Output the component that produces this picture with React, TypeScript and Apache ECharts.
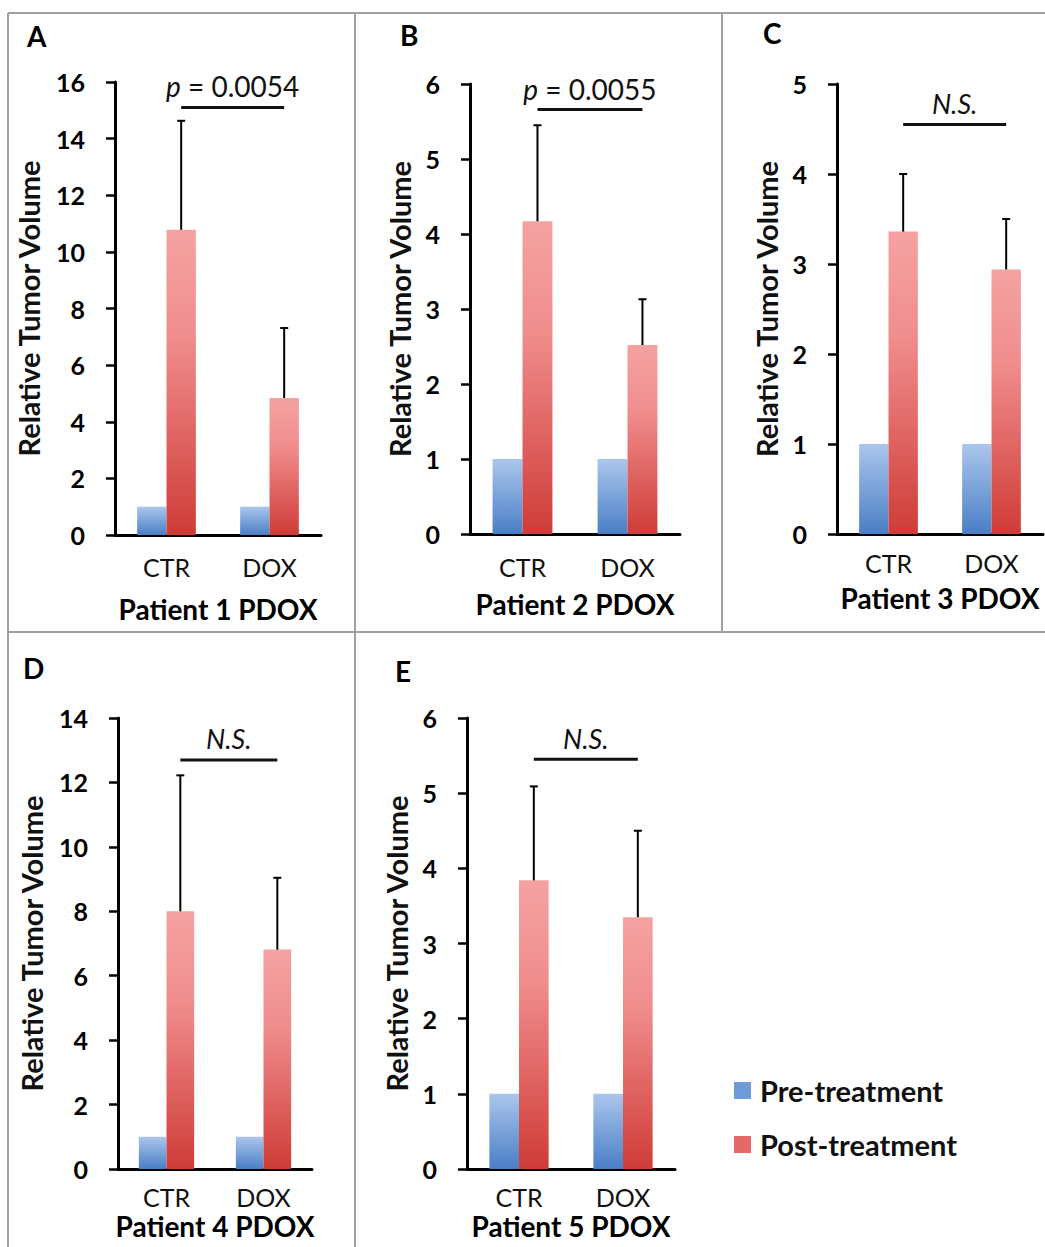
import React, { useEffect, useRef } from 'react';
import * as echarts from 'echarts';

// ---------- data ----------
const categories = ['CTR', 'DOX'];
const panelLetters = ['A', 'B', 'C', 'D', 'E'];
const patientLabels = ['Patient 1 PDOX', 'Patient 2 PDOX', 'Patient 3 PDOX', 'Patient 4 PDOX', 'Patient 5 PDOX'];
const seriesNames = ['Pre-treatment', 'Post-treatment'];
const preValues = [
  [1, 1],
  [1, 1],
  [1, 1],
  [1, 1],
  [1, 1],
];
const postValues = [
  [10.78, 4.84],
  [4.17, 2.52],
  [3.36, 2.94],
  [8.0, 6.81],
  [3.84, 3.35],
];
const postErrors = [
  [3.85, 2.47],
  [1.28, 0.61],
  [0.64, 0.56],
  [4.22, 2.23],
  [1.25, 1.15],
];
const yMax = [16, 6, 5, 14, 6];
const yStep = [2, 1, 1, 2, 1];
const sigLabels = ['p = 0.0054', 'p = 0.0055', 'N.S.', 'N.S.', 'N.S.'];
const sigLevels = [15.1, 5.66, 4.55, 12.7, 5.45];
const yAxisTitle = 'Relative Tumor Volume';

// ---------- layout / style ----------
const FONT = 'Lato';
const grids = [
  { left: 115, top: 82, width: 206, height: 453 },
  { left: 470, top: 84, width: 210, height: 450 },
  { left: 837, top: 84, width: 206, height: 450 },
  { left: 118, top: 718, width: 194, height: 451 },
  { left: 467, top: 718, width: 208, height: 451 },
];
const yNameGaps = [72, 56, 56, 72, 56];
const xLabelMargins = [19, 20, 16, 15, 15];
const xNameGaps = [60, 56, 50, 43, 43];
const xNameMove = [true, true, true, false, false];
const letterPos = [
  [27, 22],
  [400, 21],
  [763, 19],
  [23, 654],
  [395, 657],
];
const CAT_GAP = 0.43;

const blueGrad = () =>
  new echarts.graphic.LinearGradient(0, 0, 0, 1, [
    { offset: 0, color: '#abc6ec' },
    { offset: 1, color: '#4a7ec6' },
  ]);
const redGrad = () =>
  new echarts.graphic.LinearGradient(0, 0, 0, 1, [
    { offset: 0, color: '#f5a2a2' },
    { offset: 0.35, color: '#f08d8d' },
    { offset: 1, color: '#cf3c38' },
  ]);

function buildOption() {
  const xAxis: any[] = [];
  const yAxis: any[] = [];
  const series: any[] = [];
  const gridArr: any[] = [];
  const graphic: any[] = [];

  grids.forEach((g, i) => {
    gridArr.push({ ...g, containLabel: false });
    xAxis.push({
      type: 'category',
      gridIndex: i,
      data: categories,
      axisLine: { show: true, lineStyle: { color: '#000', width: 3 } },
      axisTick: { show: false },
      axisLabel: { fontSize: 25, fontFamily: FONT, color: '#111', margin: xLabelMargins[i] },
      name: patientLabels[i],
      nameLocation: 'middle',
      nameGap: xNameGaps[i],
      nameMoveOverlap: xNameMove[i],
      nameTextStyle: { fontSize: 28, fontWeight: 'bold', fontFamily: FONT, color: '#000' },
    });
    yAxis.push({
      type: 'value',
      gridIndex: i,
      min: 0,
      max: yMax[i],
      interval: yStep[i],
      axisLine: { show: true, lineStyle: { color: '#000', width: 3 } },
      axisTick: { show: true, inside: false, length: 9, lineStyle: { color: '#000', width: 2.5 } },
      splitLine: { show: false },
      axisLabel: { fontSize: 25, fontWeight: 'bold', fontFamily: FONT, color: '#000', margin: 30 },
      name: yAxisTitle,
      nameLocation: 'middle',
      nameRotate: 90,
      nameGap: yNameGaps[i],
      nameTextStyle: { fontSize: 29, fontWeight: 'bold', fontFamily: FONT, color: '#111' },
    });

    series.push({
      name: seriesNames[0],
      type: 'bar',
      xAxisIndex: i,
      yAxisIndex: i,
      data: preValues[i],
      barGap: '0%',
      barCategoryGap: CAT_GAP * 100 + '%',
      itemStyle: { color: blueGrad() },
    });
    series.push({
      name: seriesNames[1],
      type: 'bar',
      xAxisIndex: i,
      yAxisIndex: i,
      data: postValues[i],
      barGap: '0%',
      barCategoryGap: CAT_GAP * 100 + '%',
      itemStyle: { color: redGrad() },
    });
    // error bars on the post-treatment bars
    series.push({
      type: 'custom',
      xAxisIndex: i,
      yAxisIndex: i,
      z: 5,
      silent: true,
      data: categories.map((_, j) => [j, postValues[i][j], postErrors[i][j]]),
      renderItem: (params: any, api: any) => {
        const cat = api.value(0);
        const v = api.value(1);
        const e = api.value(2);
        const base = api.coord([cat, v]);
        const top = api.coord([cat, v + e]);
        const band = api.size([1, 0])[0];
        const x = base[0] + (band * (1 - CAT_GAP)) / 4;
        return {
          type: 'group',
          children: [
            { type: 'line', shape: { x1: x, y1: base[1], x2: x, y2: top[1] }, style: { stroke: '#000', lineWidth: 2 } },
            { type: 'line', shape: { x1: x - 4, y1: top[1], x2: x + 4, y2: top[1] }, style: { stroke: '#000', lineWidth: 2 } },
          ],
        };
      },
    });
    // significance bracket
    const lbl = sigLabels[i];
    const isP = lbl.startsWith('p ');
    series.push({
      type: 'custom',
      xAxisIndex: i,
      yAxisIndex: i,
      z: 5,
      silent: true,
      data: [[0, sigLevels[i]]],
      renderItem: (params: any, api: any) => {
        const level = api.value(1);
        const p0 = api.coord([0, level]);
        const p1 = api.coord([1, level]);
        const band = api.size([1, 0])[0];
        const off = (band * (1 - CAT_GAP)) / 4;
        const x0 = p0[0] + off;
        const x1 = p1[0] + off;
        return {
          type: 'group',
          children: [
            { type: 'line', shape: { x1: x0, y1: p0[1], x2: x1, y2: p0[1] }, style: { stroke: '#111', lineWidth: 3 } },
            {
              type: 'text',
              x: (x0 + x1) / 2,
              y: p0[1] - 21,
              style: {
                text: isP ? '{i|p}' + lbl.slice(1) : lbl,
                fill: '#111',
                fontSize: isP ? 28 : 27,
                fontFamily: FONT,
                fontStyle: isP ? 'normal' : 'italic',
                align: 'center',
                verticalAlign: 'middle',
                rich: { i: { fontStyle: 'italic', fontSize: 28, fontFamily: FONT, fill: '#111' } },
              },
            },
          ],
        };
      },
    });

    graphic.push({
      type: 'text',
      left: letterPos[i][0],
      top: letterPos[i][1],
      style: { text: panelLetters[i], fontSize: 28, fontWeight: 'bold', fontFamily: FONT, fill: '#000' },
    });
  });

  const border = { stroke: '#a0a0a0', lineWidth: 2 };
  graphic.push(
    { type: 'line', shape: { x1: 8, y1: 13, x2: 1045, y2: 13 }, style: border },
    { type: 'line', shape: { x1: 8, y1: 13, x2: 8, y2: 1247 }, style: border },
    { type: 'line', shape: { x1: 355, y1: 13, x2: 355, y2: 1247 }, style: border },
    { type: 'line', shape: { x1: 722, y1: 13, x2: 722, y2: 632 }, style: border },
    { type: 'line', shape: { x1: 8, y1: 632, x2: 1045, y2: 632 }, style: border }
  );

  return {
    animation: false,
    backgroundColor: '#fff',
    grid: gridArr,
    xAxis,
    yAxis,
    series,
    graphic,
    legend: {
      orient: 'vertical',
      left: 734,
      top: 1076,
      padding: 0,
      itemWidth: 17,
      itemHeight: 17,
      itemGap: 25,
      icon: 'rect',
      selectedMode: false,
      data: [
        { name: seriesNames[0], itemStyle: { color: '#6f9bd8' } },
        { name: seriesNames[1], itemStyle: { color: '#e36a68' } },
      ],
      textStyle: { fontSize: 29, fontWeight: 'bold', fontFamily: FONT, color: '#111', padding: [0, 0, 0, 4] },
    },
  };
}

export default function App() {
  const ref = useRef<HTMLDivElement>(null);
  useEffect(() => {
    if (!ref.current) return;
    const chart = echarts.init(ref.current, undefined, { renderer: 'svg' });
    chart.setOption(buildOption() as any);
    return () => chart.dispose();
  }, []);
  return (
    <div
      ref={ref}
      style={{ position: 'absolute', left: 0, top: 0, width: 1045, height: 1247, background: '#fff' }}
    />
  );
}
